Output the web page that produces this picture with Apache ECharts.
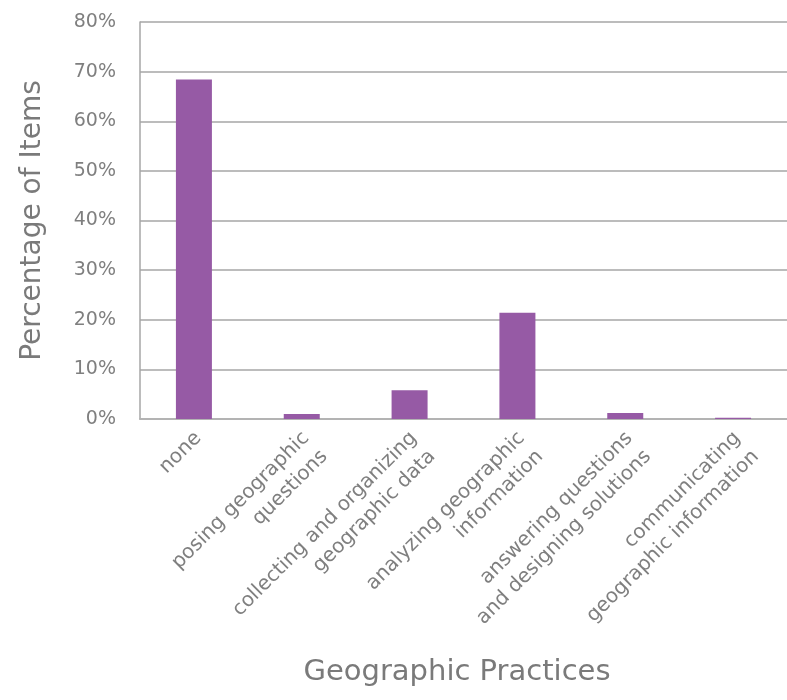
<!DOCTYPE html>
<html>
<head>
<meta charset="utf-8">
<script src="https://cdn.jsdelivr.net/npm/echarts@6/dist/echarts.min.js"></script>
<style>html,body{margin:0;padding:0;background:#fff;}#c{width:787px;height:700px;}</style>
</head>
<body>
<div id="c"></div>
<script>
const categories = [
  'none',
  'posing geographic\nquestions',
  'collecting and organizing\ngeographic data',
  'analyzing geographic\ninformation',
  'answering questions\nand designing solutions',
  'communicating\ngeographic information'
];
const percentages = [68.4, 1.0, 5.8, 21.4, 1.2, 0.25];
const yTicks = { min: 0, max: 80, interval: 10 };

const chart = echarts.init(document.getElementById('c'), null, { renderer: 'canvas' });
const gray = '#7f7f7f';
const font = 'DejaVu Sans';
chart.setOption({
  animation: false,
  backgroundColor: '#ffffff',
  title: {
    text: 'Geographic Practices',
    left: 452, top: 653, textAlign: 'center',
    textStyle: { fontFamily: font, fontSize: 29, fontWeight: 'normal', color: '#7a7a7a' }
  },
  grid: { left: 140, right: -6, top: 22, bottom: 281 },
  xAxis: {
    type: 'category',
    data: categories,
    axisTick: { show: false },
    axisLine: { lineStyle: { color: '#b3b3b3', width: 2 } },
    axisLabel: {
      interval: 0, rotate: 45, margin: 2,
      verticalAlign: 'top', align: 'right',
      padding: [0, 7, 0, 0],
      fontFamily: font, fontSize: 20, color: gray, lineHeight: 26
    }
  },
  yAxis: {
    type: 'value',
    min: yTicks.min, max: yTicks.max, interval: yTicks.interval,
    name: 'Percentage of Items',
    nameLocation: 'middle', nameGap: 93,
    nameTextStyle: { fontFamily: font, fontSize: 28, color: '#7a7a7a' },
    axisLine: { show: true, lineStyle: { color: '#a6a6a6', width: 1.5 } },
    axisTick: { show: false },
    splitLine: { lineStyle: { color: '#a6a6a6', width: 1.5 } },
    axisLabel: { formatter: '{value}%', margin: 24, fontFamily: font, fontSize: 19, color: gray }
  },
  series: [{
    type: 'bar',
    data: percentages,
    barWidth: 36,
    itemStyle: { color: '#965aa5' }
  }]
});
</script>
</body>
</html>
